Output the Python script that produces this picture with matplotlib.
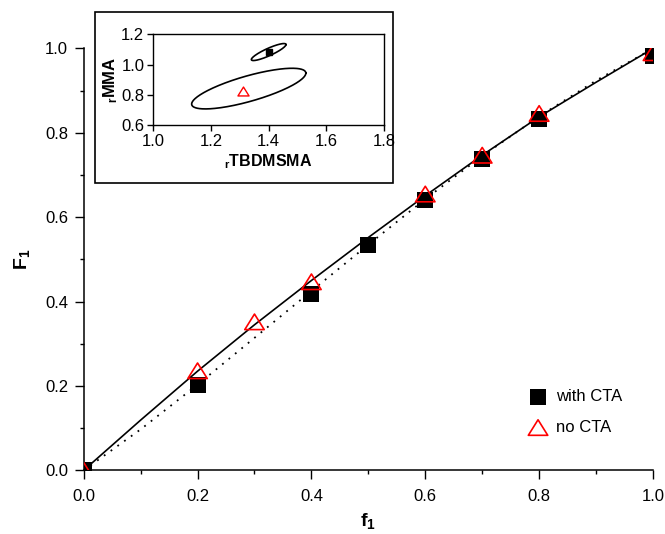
import numpy as np
import matplotlib
matplotlib.use("Agg")
import matplotlib.pyplot as plt
from matplotlib.path import Path
from matplotlib.patches import Rectangle

plt.rcParams['font.family'] = ['Liberation Sans', 'DejaVu Sans']
plt.rcParams['mathtext.fontset'] = 'custom'
plt.rcParams['mathtext.rm'] = 'Liberation Sans'
plt.rcParams['mathtext.it'] = 'Liberation Sans:italic'
plt.rcParams['mathtext.bf'] = 'Liberation Sans:bold'

# ---- main data ----
f1_cta = [0.0, 0.2, 0.4, 0.5, 0.6, 0.7, 0.8, 1.0]
F1_cta = [0.0, 0.203, 0.418, 0.533, 0.640, 0.739, 0.833, 0.982]
f1_nocta = [0.0, 0.2, 0.3, 0.4, 0.6, 0.7, 0.8, 1.0]
F1_nocta = [0.0, 0.236, 0.352, 0.447, 0.655, 0.747, 0.846, 0.99]

# fitted curves
f_curve = [0.0, 0.1, 0.2, 0.3, 0.4, 0.5, 0.6, 0.7, 0.8, 0.9, 1.0]
F_fit_nocta = [0.0, 0.119, 0.235, 0.345, 0.450, 0.552, 0.651, 0.747, 0.838, 0.920, 1.0]
F_fit_cta = [0.0, 0.097, 0.203, 0.314, 0.425, 0.535, 0.643, 0.745, 0.839, 0.924, 1.0]

main_ticks = [0.0, 0.2, 0.4, 0.6, 0.8, 1.0]

# ---- inset data ----
r_tbd_cta, r_mma_cta = 1.40, 1.08
r_tbd_nocta, r_mma_nocta = 1.31, 0.828
# confidence ellipses: center x, center y, half range x, half range y, correlation
ell_cta = (1.40, 1.083, 0.060, 0.056, 0.88)
ell_nocta = (1.331, 0.842, 0.198, 0.134, 0.76)
inset_xticks = [1.0, 1.2, 1.4, 1.6, 1.8]
inset_yticks = [0.6, 0.8, 1.0, 1.2]

W, H = 665, 534
fig = plt.figure(figsize=(W / 100, H / 100), dpi=100)

def box(l, t, r, b):
    return [l / W, 1 - b / H, (r - l) / W, (b - t) / H]

ax = fig.add_axes(box(83.7, 48.5, 653, 470.3))
ax.set_xlim(0, 1)
ax.set_ylim(0, 1)
for s in ['top', 'right']:
    ax.spines[s].set_visible(False)
for s in ['left', 'bottom']:
    ax.spines[s].set_linewidth(1.1)

ax.plot(f_curve, F_fit_nocta, color='black', lw=1.2, ls='-', zorder=2)
ax.plot(f_curve, F_fit_cta, color='black', lw=1.3, ls=(0, (1, 3.6)), zorder=2)

tri = Path([(-1, -0.8), (1, -0.8), (0, 0.8), (-1, -0.8)],
           [Path.MOVETO, Path.LINETO, Path.LINETO, Path.CLOSEPOLY])

ax.scatter(f1_cta, F1_cta, marker='s', s=11 ** 2, color='black',
           linewidths=0, label='with CTA', zorder=3)
ax.scatter(f1_nocta, F1_nocta, marker=tri, s=14 ** 2, facecolors='none',
           edgecolors='red', linewidths=1.2, label='no CTA', zorder=4)

ax.set_xticks(main_ticks)
ax.set_yticks(main_ticks)
ax.set_xticks(np.arange(0.1, 1.0, 0.2), minor=True)
ax.set_yticks(np.arange(0.1, 1.0, 0.2), minor=True)
ax.xaxis.set_major_formatter(matplotlib.ticker.FormatStrFormatter('%.1f'))
ax.yaxis.set_major_formatter(matplotlib.ticker.FormatStrFormatter('%.1f'))
ax.tick_params(which='major', direction='out', length=6.3, width=1.0,
               labelsize=12)
ax.tick_params(axis='x', which='major', pad=7)
ax.tick_params(axis='y', which='major', pad=5)
ax.tick_params(which='minor', direction='out', length=3, width=1.0)

ax.set_xlabel(r'$\mathbf{f_1}$', fontsize=14, labelpad=5)
ax.set_ylabel(r'$\mathbf{F_1}$', fontsize=14, labelpad=9)

leg = ax.legend(loc='center left', bbox_to_anchor=(529.7 / W, 1 - 412 / H),
                bbox_transform=fig.transFigure, frameon=False, fontsize=12,
                borderpad=0, handlelength=1.0, handletextpad=0.58,
                labelspacing=0.95, borderaxespad=0, scatterpoints=1)

# ---- inset ----
frame = Rectangle((95 / W, 1 - 182.7 / H), (393 - 95) / W, (182.7 - 11.7) / H,
                  transform=fig.transFigure, fill=True, facecolor='white',
                  edgecolor='black', lw=1.2, zorder=5)
fig.patches.append(frame)

axi = fig.add_axes(box(153.3, 34.3, 384, 125.3))
axi.set_zorder(10)
axi.set_xlim(1.0, 1.8)
axi.set_ylim(0.6, 1.2)
axi.set_xticks(inset_xticks)
axi.set_yticks(inset_yticks)
axi.xaxis.set_major_formatter(matplotlib.ticker.FormatStrFormatter('%.1f'))
axi.yaxis.set_major_formatter(matplotlib.ticker.FormatStrFormatter('%.1f'))
axi.tick_params(direction='out', length=4, width=1.0, labelsize=12, pad=2.5)
for s in axi.spines.values():
    s.set_linewidth(1.0)

t = np.linspace(0, 2 * np.pi, 300)
for (cx, cy, dx, dy, rho) in [ell_cta, ell_nocta]:
    phi = np.arccos(rho)
    axi.plot(cx + dx * np.cos(t), cy + dy * np.cos(t - phi), color='black', lw=1.2)

axi.plot([r_tbd_cta], [r_mma_cta], ls='none', marker='s', ms=4.5, color='black')
axi.plot([r_tbd_nocta], [r_mma_nocta], ls='none', marker=tri, ms=8,
         mfc='none', mec='red', mew=1.0)

axi.set_xlabel(r'$_{\mathbf{r}}$TBDMSMA', fontsize=11.5, fontweight='bold', labelpad=2)
axi.set_ylabel(r'$_{\mathbf{r}}$MMA', fontsize=12, fontweight='bold', labelpad=1)

fig.savefig('out.png', dpi=100)
